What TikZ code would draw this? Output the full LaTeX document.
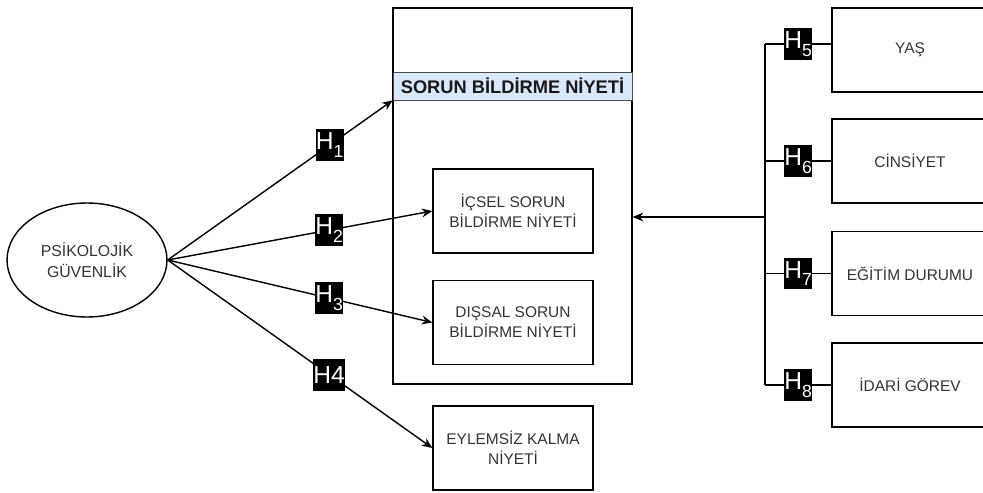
\documentclass[tikz,border=0pt]{standalone}
\usepackage{fontspec}
\setmainfont{Liberation Sans}
\usetikzlibrary{shapes.geometric,arrows.meta}
\definecolor{txtgray}{HTML}{333333}
\definecolor{bandblue}{HTML}{DAE8FC}
\newcommand\hx[1]{H\raisebox{-.3em}{\fontsize{10}{10}\selectfont #1}}

\begin{document}
\begin{tikzpicture}[x=0.02cm,y=-0.02cm,
  box/.style={draw,line width=.8pt,minimum width=3.2cm,minimum height=1.68cm,align=center,text=txtgray,font=\fontsize{8.8}{11.3}\selectfont},
  hlab/.style={fill=black,text=white,inner sep=0pt,minimum width=.56cm,minimum height=.64cm,font=\fontsize{14}{14}\selectfont},
  arr/.style={line width=.8pt,-{Stealth[length=6pt,width=5pt]}},
  bus/.style={line width=.8pt}]
\useasboundingbox (0,0) rectangle (983,493);

\node[ellipse,draw,line width=.8pt,minimum width=3.2cm,minimum height=2.28cm,inner sep=0pt,align=center,text=txtgray,font=\fontsize{9}{12}\selectfont] (psg) at (87,260) {PSİKOLOJİK\\GÜVENLİK};

\node[draw,line width=.8pt,minimum width=4.78cm,minimum height=7.52cm] (big) at (512.5,196) {};
\node[draw=black!70,fill=bandblue,minimum width=4.78cm,minimum height=.56cm,inner sep=0pt,text=black!90,font=\fontsize{10.4}{12}\selectfont\bfseries] (title) at (512.5,86) {SORUN BİLDİRME NİYETİ};
\node[box] (ib1) at (513,211) {İÇSEL SORUN\\BİLDİRME NİYETİ};
\node[box] (ib2) at (513,322.5) {DIŞSAL SORUN\\BİLDİRME NİYETİ};
\node[box] (eyl) at (513,448) {EYLEMSİZ KALMA\\NİYETİ};

\draw[arr] (psg.east) -- node[hlab,pos=.72] (h1) {\hx1} (title.south west);
\draw[arr] (psg.east) -- node[hlab,pos=.61] (h2) {\hx2} (ib1.west);
\draw[arr] (psg.east) -- node[hlab,pos=.61] (h3) {\hx3} (ib2.west);
\draw[arr] (psg.east) -- node[hlab,pos=.61] (h4) {H4} (eyl.west);

\node[box,minimum width=3.12cm] (yas) at (910,50) {YAŞ};
\node[box,minimum width=3.12cm] (cins) at (910,161) {CİNSİYET};
\node[box,minimum width=3.12cm] (egt) at (910,273.5) {EĞİTİM DURUMU};
\node[box,minimum width=3.12cm] (idr) at (910,385) {İDARİ GÖREV};

\coordinate (b5) at (765,44);
\coordinate (b8) at (765,385);
\coordinate (bm) at (765,217);
\draw[bus] (b5) -- (b8);
\draw[bus] (b5) -- node[hlab] (h5) {\hx5} (yas.west |- b5);
\draw[bus] (cins.west -| b5) -- node[hlab] (h6) {\hx6} (cins.west);
\draw[bus] (egt.west -| b5) -- node[hlab] (h7) {\hx7} (egt.west);
\draw[bus] (idr.west -| b5) -- node[hlab] (h8) {\hx8} (idr.west);
\draw[arr] (bm) -- (bm -| big.east);
\end{tikzpicture}
\end{document}
